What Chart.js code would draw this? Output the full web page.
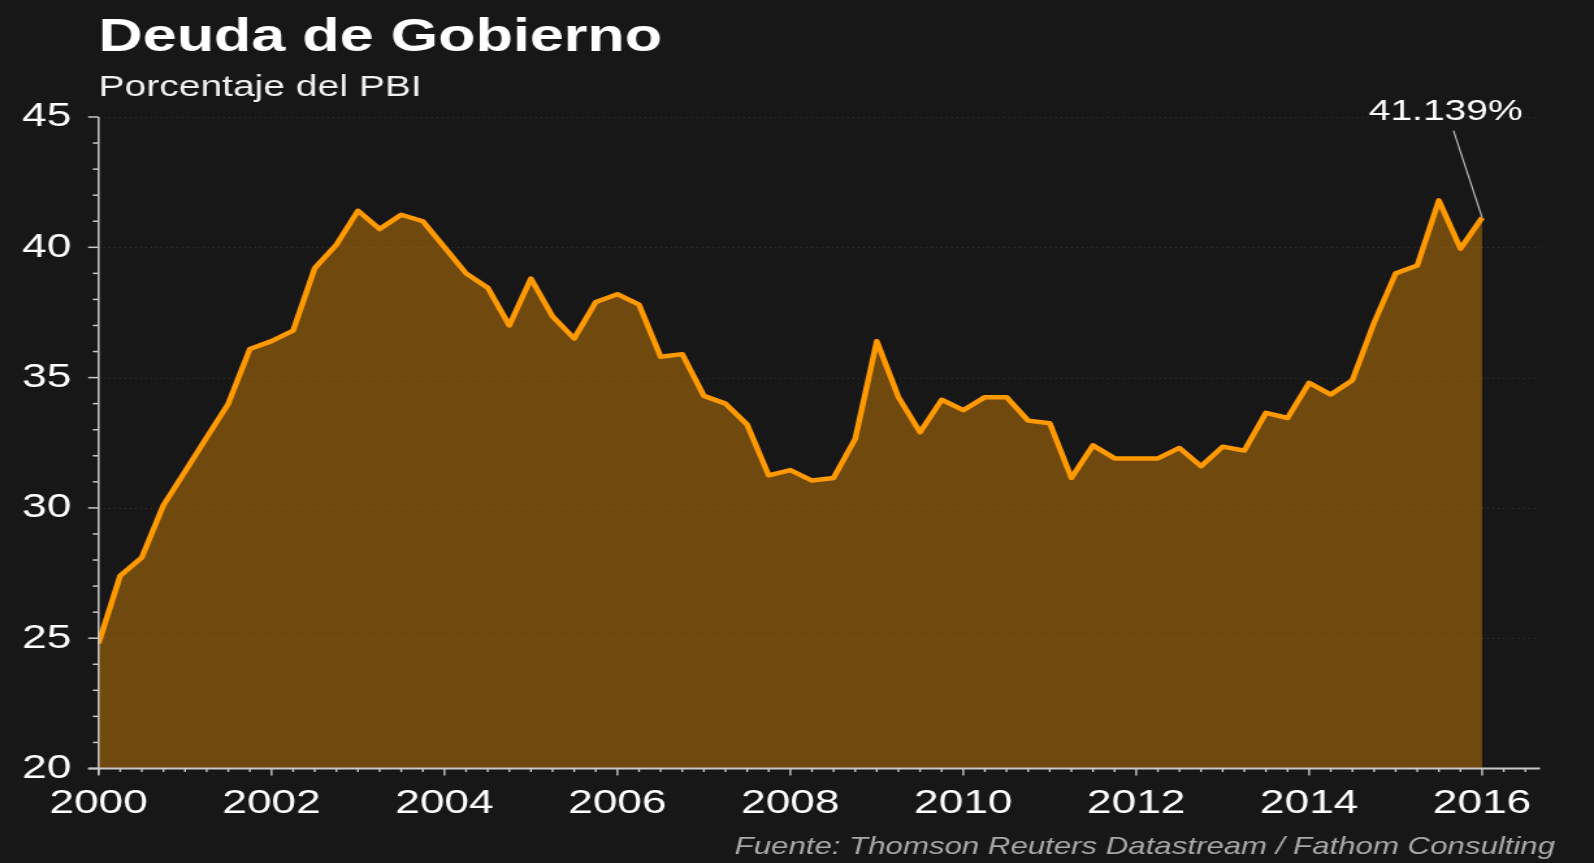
<!doctype html>
<html lang="es">
  <head>
    <meta charset="utf-8">
    <title>Deuda de Gobierno</title>
    <script src="https://cdn.jsdelivr.net/npm/chart.js@4.4.0/dist/chart.umd.min.js"></script>
    <style>
      html, body { margin: 0; padding: 0; background: #171717; overflow: hidden; }
      /* the reference is stretched sideways, so the whole chart is too */
      #wrap { position: absolute; left: 0; top: 0; width: 1226px; height: 863px;
              transform: scaleX(1.30016); transform-origin: 0 0; }
      canvas { display: block; }
    </style>
  </head>
  <body>
    <div id="wrap">
      <canvas id="debtChart" width="1226" height="863"></canvas>
    </div>

    <script>
      // government debt, % of GDP, quarterly from 2000 T1 to 2016 T1
      const firstYear = 2000;
      const debtPct = [
        24.8, 27.4, 28.1, 30.1,   // 2000
        31.4, 32.7, 34.0, 36.1,   // 2001
        36.4, 36.8, 39.2, 40.1,   // 2002
        41.4, 40.7, 41.25, 41.0,  // 2003
        40.0, 39.0, 38.45, 37.0,  // 2004
        38.8, 37.35, 36.5, 37.9,  // 2005
        38.2, 37.8, 35.8, 35.9,   // 2006
        34.3, 34.0, 33.2, 31.25,  // 2007
        31.45, 31.05, 31.15, 32.65, // 2008
        36.4, 34.25, 32.9, 34.15, // 2009
        33.75, 34.25, 34.25, 33.35, // 2010
        33.25, 31.15, 32.4, 31.9, // 2011
        31.9, 31.9, 32.3, 31.6,   // 2012
        32.35, 32.2, 33.65, 33.45, // 2013
        34.8, 34.35, 34.9, 37.1,  // 2014
        39.0, 39.3, 41.8, 39.95,  // 2015
        41.139                    // 2016
      ];
      const yearTicks = [2000, 2002, 2004, 2006, 2008, 2010, 2012, 2014, 2016];
      const valueTicks = [20, 25, 30, 35, 40, 45];
      const xMax = 2016.67;

      const titleText = "Deuda de Gobierno";
      const subtitleText = "Porcentaje del PBI";
      const sourceText = "Fuente: Thomson Reuters Datastream / Fathom Consulting";

      const FONT = '"Liberation Sans", Arial, sans-serif';
      const points = debtPct.map((v, i) => ({ x: firstYear + i / 4, y: v }));

      // axis lines, tick marks, dotted grid
      const axesPlugin = {
        id: "axes",
        beforeDatasetsDraw(chart) {
          const ctx = chart.ctx, ys = chart.scales.y;
          const a = chart.chartArea;
          ctx.save();
          ctx.strokeStyle = "#353535";
          ctx.lineWidth = 1;
          ctx.setLineDash([1, 3]);
          valueTicks.forEach(v => {
            if (v === ys.min) return;
            const y = Math.round(ys.getPixelForValue(v)) + 0.5;
            ctx.beginPath(); ctx.moveTo(a.left, y); ctx.lineTo(a.right, y); ctx.stroke();
          });
          ctx.restore();
        },
        afterDatasetsDraw(chart) {
          const ctx = chart.ctx, xs = chart.scales.x, ys = chart.scales.y;
          const a = chart.chartArea;
          ctx.save();
          ctx.strokeStyle = "#c9c9c9";
          // y axis
          ctx.lineWidth = 1.5;
          ctx.beginPath(); ctx.moveTo(a.left, a.top); ctx.lineTo(a.left, a.bottom + 6); ctx.stroke();
          for (let v = ys.min; v <= ys.max; v++) {
            const y = ys.getPixelForValue(v);
            const len = v % 5 === 0 ? 8 : 4.4;
            ctx.beginPath(); ctx.moveTo(a.left - len, y); ctx.lineTo(a.left, y); ctx.stroke();
          }
          // x axis
          ctx.lineWidth = 2;
          ctx.beginPath(); ctx.moveTo(a.left - 8, a.bottom); ctx.lineTo(a.right, a.bottom); ctx.stroke();
          ctx.lineWidth = 1.4;
          for (let q = 0; firstYear + q / 4 <= xs.max; q++) {
            const x = xs.getPixelForValue(firstYear + q / 4);
            const major = q % 8 === 0;
            ctx.beginPath(); ctx.moveTo(x, a.bottom); ctx.lineTo(x, a.bottom + (major ? 7 : 3.5)); ctx.stroke();
          }
          ctx.restore();
        },
        afterDraw(chart) {
          const ctx = chart.ctx, xs = chart.scales.x, ys = chart.scales.y;
          const a = chart.chartArea;
          ctx.save();
          ctx.textBaseline = "alphabetic";
          ctx.fillStyle = "#ffffff";
          ctx.font = "bold 47px " + FONT;
          ctx.textAlign = "left";
          ctx.fillText(titleText, a.left, 51);
          ctx.fillStyle = "#f0f0f0";
          ctx.font = "30px " + FONT;
          ctx.fillText(subtitleText, a.left, 96);

          ctx.fillStyle = "#a9a9a9";
          ctx.font = "italic 24px " + FONT;
          ctx.textAlign = "right";
          ctx.fillText(sourceText, 1196, 854);

          // last value callout
          const last = debtPct[debtPct.length - 1];
          const px = xs.getPixelForValue(firstYear + (debtPct.length - 1) / 4);
          const py = ys.getPixelForValue(last);
          ctx.strokeStyle = "#c4c4c4";
          ctx.lineWidth = 1.1;
          ctx.beginPath(); ctx.moveTo(px - 22, py - 87); ctx.lineTo(px, py); ctx.stroke();
          ctx.fillStyle = "#ffffff";
          ctx.font = "30px " + FONT;
          ctx.textAlign = "center";
          ctx.fillText(last.toFixed(3) + "%", px - 28, py - 98);
          ctx.restore();
        }
      };

      const ctx = document.getElementById("debtChart").getContext("2d");
      const debtChart = new Chart(ctx, {
        type: "line",
        data: {
          datasets: [{
            label: subtitleText,
            data: points,
            borderColor: "#ff9900",
            borderWidth: 4.5,
            borderJoinStyle: "round",
            backgroundColor: "rgba(255,153,0,0.385)",
            fill: "start",
            pointRadius: 0,
            tension: 0
          }]
        },
        options: {
          responsive: false,
          animation: false,
          events: [],
          layout: { padding: { top: 117, bottom: 0, left: 0, right: 41.5 } },
          plugins: { legend: { display: false }, tooltip: { enabled: false } },
          scales: {
            x: {
              type: "linear",
              min: firstYear,
              max: xMax,
              grid: { display: false },
              border: { display: false },
              afterBuildTicks: s => { s.ticks = yearTicks.map(v => ({ value: v })); },
              afterFit: s => { s.height = 94.5; },
              ticks: {
                autoSkip: false, maxRotation: 0, padding: 7,
                color: "#ffffff",
                font: { family: FONT, size: 34 },
                callback: v => String(v)
              }
            },
            y: {
              min: 20,
              max: 45,
              grid: { display: false },
              border: { display: false },
              afterBuildTicks: s => { s.ticks = valueTicks.map(v => ({ value: v })); },
              afterFit: s => { s.width = 75.8; },
              ticks: {
                autoSkip: false, padding: 13,
                color: "#ffffff",
                font: { family: FONT, size: 34 },
                callback: v => String(v)
              }
            }
          }
        },
        plugins: [axesPlugin]
      });
    </script>
  </body>
</html>
